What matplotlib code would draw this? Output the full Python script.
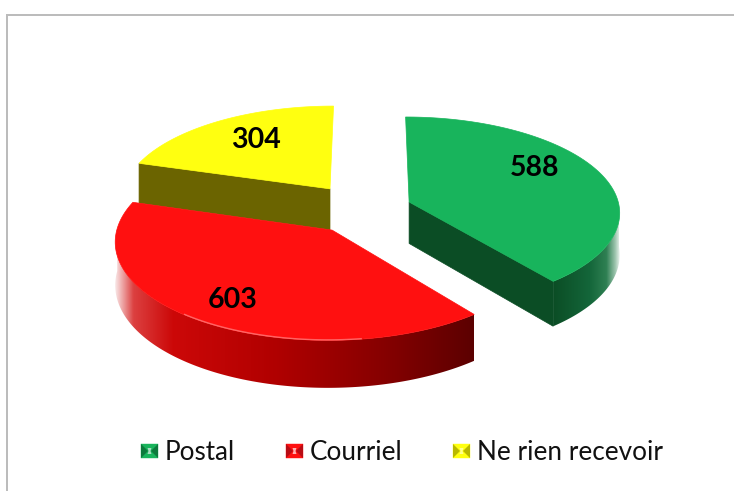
################################################ Import modules ########################################################

import matplotlib
matplotlib.use('Agg')
import matplotlib.pyplot as plt
import numpy as np
from matplotlib.colors import LinearSegmentedColormap
from matplotlib.patches import Polygon

################################################## Data ################################################################

categories = ['Postal', 'Courriel', 'Ne rien recevoir']
values = [588, 603, 304]

################################################## Style ###############################################################

top_colors = ['#18b45c', '#ff1010', '#ffff10']
wall_colors = ['#0b4d25', '#7a0000', '#6b6400']
explode_x = [0.187, -0.176, -0.194]
explode_y = [0.137, -0.155, 0.28]
label_xy = [(535, 168.5), (233, 299.5), (256, 139.5)]
legend_icon_x = [141, 286, 453]
legend_text_x = [165, 310, 477]

plt.rcParams['font.family'] = ['Lato', 'DejaVu Sans']

# Fake perspective for the tilted pie, everything below is in screen pixels.
cx, cy = 370, 215
rx, ry = 212, 96
k = 0.1
depth = 42

def project(x, y):
    s = 1 / (1 + k * y)
    return cx + rx * x * s, cy - ry * y * s, s

def arc(a1, a2, ex, ey, n=120):
    a = np.radians(np.linspace(a1, a2, n))
    return project(ex + np.sin(a), ey + np.cos(a))

fig = plt.figure(figsize=(7.34, 4.91), dpi=100)
ax = fig.add_axes([0, 0, 1, 1])
ax.axis('off')

# Chart area border: only the left and top sides show in the picture.
ax.plot([7, 7, 734], [491, 15, 15], color='#bcbcbc', lw=1.44, solid_joinstyle='miter')

################################################## Rim shading #########################################################

red_rim = LinearSegmentedColormap.from_list('red_rim', [
    (0.0, '#f8e4e4'), (0.05, '#dc4040'), (0.16, '#cc0808'), (0.45, '#b00000'), (0.75, '#860000'), (1.0, '#5c0000')])
green_rim = LinearSegmentedColormap.from_list('green_rim', [
    (0.0, '#0b4d25'), (0.55, '#14663a'), (0.8, '#2f8053'), (0.93, '#9cc4ad'), (1.0, '#ecf4ef')])

def draw_rim(a1, a2, ex, ey, cmap):
    xs, ys, ss = arc(a1, a2, ex, ey, n=160)
    outline = np.r_[np.column_stack([xs, ys]), np.column_stack([xs, ys + depth * ss])[::-1]]
    clip = Polygon(outline, closed=True, transform=ax.transData)
    img = ax.imshow(np.linspace(0, 1, 256)[None, :], cmap=cmap, aspect='auto', interpolation='bilinear',
                    extent=[outline[:, 0].min(), outline[:, 0].max(), outline[:, 1].max(), outline[:, 1].min()])
    img.set_clip_path(clip)

################################################## Slices ##############################################################

edges = np.concatenate([[0], np.cumsum(values)]) / np.sum(values) * 360

# Drawn from the back to the front: yellow, red, green.
for i in [2, 1, 0]:
    a1, a2 = edges[i], edges[i + 1]
    ex, ey = explode_x[i], explode_y[i]
    ax0, ay0, s0 = project(ex, ey)
    xs, ys, ss = arc(a1, a2, ex, ey)

    # Cut face that looks at the viewer: start of yellow, end of green, none for red.
    if i != 1:
        j = 0 if i == 2 else -1
        ax.add_patch(Polygon([(ax0, ay0), (xs[j], ys[j]), (xs[j], ys[j] + depth * ss[j]),
                              (ax0, ay0 + depth * s0)], closed=True, fc=wall_colors[i], ec=wall_colors[i], lw=0.5))
    if i == 0:
        draw_rim(92, a2, ex, ey, green_rim)
    if i == 1:
        draw_rim(a1, 271, ex, ey, red_rim)

    ax.add_patch(Polygon(np.column_stack([np.r_[ax0, xs], np.r_[ay0, ys]]), closed=True,
                         fc=top_colors[i], ec=top_colors[i], lw=0.5))

    if i == 1:
        # Thin light reflection on the front of the red rim.
        hx, hy, _ = arc(172, 218, ex, ey, n=40)
        ax.plot(hx, hy - 0.5, color='#ff9a9a', lw=1.0, alpha=0.6)

################################################## Labels ##############################################################

for i, v in enumerate(values):
    ax.text(label_xy[i][0], label_xy[i][1], str(v), ha='center', va='center', fontsize=20.5,
            fontweight='bold', color='black')

################################################## Legend ##############################################################

def legend_icon(x, color, dark, light):
    w, h = 17, 14
    y = 444
    mx, my = x + w / 2, y + h / 2
    ax.add_patch(Polygon([(x, y), (x + w, y), (x + w, y + h), (x, y + h)], closed=True, fc=color, ec=color, lw=0.3))
    ax.add_patch(Polygon([(x, y), (mx - 1.5, my), (x, y + h)], closed=True, fc=dark, lw=0))
    ax.add_patch(Polygon([(x + w, y), (mx + 1.5, my), (x + w, y + h)], closed=True, fc=dark, lw=0))
    ax.add_patch(Polygon([(mx - 2, y + 4), (mx + 2, y + 4), (mx + 1, my), (mx + 2, y + 10), (mx - 2, y + 10), (mx - 1, my)],
                         closed=True, fc=light, lw=0))

legend_dark = ['#0c7a3c', '#b80c14', '#b8b800']
legend_light = ['#a8dcc0', '#ffb0b0', '#ffff90']

for i, name in enumerate(categories):
    legend_icon(legend_icon_x[i], top_colors[i], legend_dark[i], legend_light[i])
    ax.text(legend_text_x[i], 460, name, ha='left', va='baseline', fontsize=18.8, color='#111111')

# imshow changes the limits, so they are set last.
ax.set_xlim(0, 734)
ax.set_ylim(491, 0)

plt.savefig('out.png', dpi=100)
